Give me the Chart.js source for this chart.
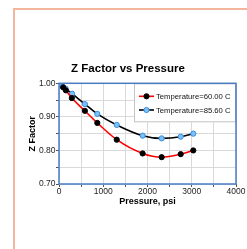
<!DOCTYPE html>
<html>
<head>
<meta charset="utf-8">
<script src="https://cdn.jsdelivr.net/npm/chart.js@4/dist/chart.umd.min.js"></script>
<style>
  html, body { margin: 0; padding: 0; background: #ffffff; }
  #wrap { position: relative; width: 247px; height: 249px; overflow: hidden; }
  #frame { position: absolute; left: 13px; top: 8px; width: 300px; height: 300px;
           border-left: 2px solid #f5b59c; border-top: 2px solid #f5b59c; box-sizing: border-box; }
  canvas { position: absolute; left: 0; top: 0; }
</style>
</head>
<body>
<div id="wrap">
  <div id="frame"></div>
  <canvas id="c" width="247" height="249"></canvas>
</div>
<script>
const chartTitle = "Z Factor vs Pressure";
const xAxisTitle = "Pressure, psi";
const yAxisTitle = "Z Factor";
const seriesNames = ["Temperature=60.00 C", "Temperature=85.60 C"];
const pressure60 = [95, 155, 290, 585, 866, 1305, 1890, 2320, 2750, 3035];
const zFactor60 = [0.988, 0.979, 0.956, 0.918, 0.882, 0.832, 0.791, 0.780, 0.789, 0.800];
const pressure85 = [75, 150, 295, 585, 866, 1305, 1890, 2320, 2750, 3035];
const zFactor85 = [0.991, 0.984, 0.969, 0.938, 0.909, 0.876, 0.844, 0.836, 0.841, 0.850];
const xMin = 0, xMax = 4000, xStep = 500, xLabelEvery = 1000;
const yMin = 0.70, yMax = 1.00, yStep = 0.05;

const FONT = "'Liberation Sans', Arial, sans-serif";

function toPoints(xs, ys) { return xs.map((x, i) => ({ x: x, y: ys[i] })); }

const frameAndLegend = {
  id: 'frameAndLegend',
  afterDatasetsDraw(chart) {
    const { ctx, chartArea: a } = chart;
    ctx.save();
    // legend box inside plot area (top-right)
    const lx = a.right - 102, ly = a.top, lw = 102, lh = 39;
    ctx.fillStyle = '#ffffff';
    ctx.fillRect(lx, ly, lw, lh);
    ctx.strokeStyle = '#c4c4c4';
    ctx.lineWidth = 1;
    ctx.strokeRect(lx + 0.5, ly + 0.5, lw - 1, lh - 1);
    const order = [0, 1];
    order.forEach((dsIndex, row) => {
      const ds = chart.data.datasets[dsIndex];
      const cy = ly + 13 + row * 13.7;
      const x0 = lx + 5, x1 = lx + 20;
      ctx.strokeStyle = ds.borderColor;
      ctx.lineWidth = 1.6;
      ctx.beginPath(); ctx.moveTo(x0, cy); ctx.lineTo(x1, cy); ctx.stroke();
      ctx.beginPath(); ctx.arc((x0 + x1) / 2, cy, 2.6, 0, Math.PI * 2);
      ctx.fillStyle = ds.pointBackgroundColor; ctx.fill();
      ctx.strokeStyle = ds.pointBorderColor; ctx.lineWidth = 1; ctx.stroke();
      ctx.fillStyle = '#111111';
      ctx.font = '7.7px ' + FONT;
      ctx.textAlign = 'left';
      ctx.textBaseline = 'middle';
      ctx.fillText(ds.label, x1 + 2, cy + 0.5);
    });
    // plot border
    ctx.strokeStyle = '#4a7cc4';
    ctx.lineWidth = 1.5;
    ctx.strokeRect(a.left, a.top, a.right - a.left, a.bottom - a.top);
    ctx.restore();
  }
};

new Chart(document.getElementById('c'), {
  type: 'line',
  data: {
    datasets: [
      {
        label: seriesNames[0],
        data: toPoints(pressure60, zFactor60),
        borderColor: '#ff0000',
        borderWidth: 1.6,
        pointBackgroundColor: '#000000',
        pointBorderColor: '#000000',
        pointBorderWidth: 1,
        pointRadius: 2.6,
        tension: 0.35,
        cubicInterpolationMode: 'monotone',
        fill: false,
        order: 1
      },
      {
        label: seriesNames[1],
        data: toPoints(pressure85, zFactor85),
        borderColor: '#000000',
        borderWidth: 1.6,
        pointBackgroundColor: '#7cc0f6',
        pointBorderColor: '#3a8de0',
        pointBorderWidth: 1,
        pointRadius: 2.6,
        tension: 0.35,
        cubicInterpolationMode: 'monotone',
        fill: false,
        order: 2
      }
    ]
  },
  options: {
    responsive: false,
    animation: false,
    devicePixelRatio: 1,
    layout: { padding: { left: 20, right: 11, top: 0, bottom: 0 } },
    plugins: {
      legend: { display: false },
      tooltip: { enabled: false },
      title: {
        display: true,
        text: chartTitle,
        color: '#000000',
        font: { family: FONT, size: 11.5, weight: 'bold', lineHeight: 1.2 },
        padding: { top: 62.1, bottom: 7.4 }
      }
    },
    scales: {
      x: {
        type: 'linear',
        min: xMin, max: xMax,
        grid: { color: '#d9d9d9', lineWidth: 1, drawTicks: true, tickLength: 3, tickColor: '#555555' },
        border: { display: false },
        ticks: {
          stepSize: xStep,
          padding: 0,
          maxRotation: 0,
          color: '#222222',
          font: { family: FONT, size: 8.5 },
          callback: (v) => (v % xLabelEvery === 0 ? String(v) : '')
        },
        title: {
          display: true,
          text: xAxisTitle,
          color: '#000000',
          font: { family: FONT, size: 9, weight: 'bold', lineHeight: 1.2 },
          padding: { top: 0, bottom: 41.6 }
        },
        afterFit: (s) => { s.height = 65; }
      },
      y: {
        type: 'linear',
        min: yMin, max: yMax,
        grid: { color: '#d9d9d9', lineWidth: 1, drawTicks: true, tickLength: 3, tickColor: '#555555' },
        border: { display: false },
        ticks: {
          stepSize: yStep,
          padding: 0.5,
          color: '#222222',
          font: { family: FONT, size: 8.5 },
          callback: (v) => (Math.round(v * 100) % 10 === 0 ? v.toFixed(2) : '')
        },
        title: {
          display: true,
          text: yAxisTitle,
          color: '#000000',
          font: { family: FONT, size: 9, weight: 'bold', lineHeight: 1.2 },
          padding: { top: 7.6, bottom: 0 }
        },
        afterFit: (s) => { s.width = 39; }
      }
    }
  },
  plugins: [frameAndLegend]
});
</script>
</body>
</html>
